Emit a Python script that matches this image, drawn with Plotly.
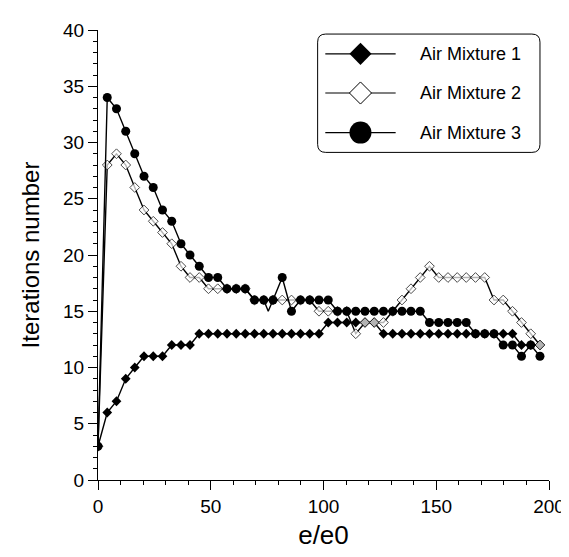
import plotly.graph_objects as go

# e/e0 sample positions
x_grid = [0, 4.1, 8.2, 12.3, 16.3, 20.4, 24.5, 28.6, 32.7, 36.8, 40.8, 44.9, 49.0, 53.1,
          57.2, 61.3, 65.3, 69.4, 73.5, 77.6, 81.7, 85.8, 89.8, 93.9, 98.0, 102.1, 106.2,
          110.3, 114.3, 118.4, 122.5, 126.6, 130.7, 134.8, 138.8, 142.9, 147.0, 151.1,
          155.2, 159.3, 163.3, 167.4, 171.5, 175.6, 179.7, 183.8, 187.8, 191.9, 196.0]

air1 = [3, 6, 7, 9, 10, 11, 11, 11, 12, 12, 12,
        13, 13, 13, 13, 13, 13, 13, 13, 13, 13, 13, 13, 13, 13,
        14, 14, 14, 14, 14, 14,
        13, 13, 13, 13, 13, 13, 13, 13, 13, 13, 13, 13, 13, 13, 13,
        12, 12, 12]

air2 = [3, 28, 29, 28, 26, 24, 23, 22, 21, 19, 18, 18, 17, 17, 17, 17, 17,
        16, 16, 16, 16, 16, 16, 16, 15, 15, 15, 15, 13, 14, 14, 14, 15, 16, 17,
        18, 19, 18, 18, 18, 18, 18, 18, 16, 16, 15, 14, 13, 12]
# an unmarked intermediate point of series 2 (the small dip near e/e0 = 75)
air2_extra_x = [75.5]
air2_extra_y = [15]

air3 = [3, 34, 33, 31, 29, 27, 26, 24, 23, 21, 20, 19, 18, 18, 17, 17, 17, 16, 16, 16,
        18, 15, 16, 16, 16, 16,
        15, 15, 15, 15, 15, 15, 15, 15, 15, 15,
        14, 14, 14, 14, 14,
        13, 13, 13,
        12, 12, 11, 12, 11]

names = ["Air Mixture 1", "Air Mixture 2", "Air Mixture 3"]
x_ticks = [0, 50, 100, 150, 200]
y_ticks = [0, 5, 10, 15, 20, 25, 30, 35, 40]

FONT = "Liberation Sans, Arial, Helvetica, sans-serif"
LINE = dict(color="black", width=1.4)

fig = go.Figure()

fig.add_trace(go.Scatter(
    x=x_grid, y=air1, mode="lines+markers", line=LINE,
    marker=dict(symbol="diamond", size=7.5, color="black"),
    showlegend=False, name=names[0]))

# merge series 2 with its unmarked point
pts = [(x, y, 7.5) for x, y in zip(x_grid, air2)] + \
      [(x, y, 0) for x, y in zip(air2_extra_x, air2_extra_y)]
pts.sort(key=lambda p: p[0])
fig.add_trace(go.Scatter(
    x=[p[0] for p in pts], y=[p[1] for p in pts], mode="lines+markers", line=LINE,
    marker=dict(symbol="diamond", size=[p[2] for p in pts], color="white",
                line=dict(color="black", width=1)),
    showlegend=False, name=names[1]))

fig.add_trace(go.Scatter(
    x=x_grid, y=air3, mode="lines+markers", line=LINE,
    marker=dict(symbol="circle", size=9, color="black"),
    showlegend=False, name=names[2]))

# ---- hand-drawn legend (paper coordinates) ----
bx0, bx1, by0, by1 = 0.487, 0.980, 0.728, 0.991
rx, ry = 0.018, 0.018
path = (f"M {bx0+rx},{by0} L {bx1-rx},{by0} Q {bx1},{by0} {bx1},{by0+ry} "
        f"L {bx1},{by1-ry} Q {bx1},{by1} {bx1-rx},{by1} L {bx0+rx},{by1} "
        f"Q {bx0},{by1} {bx0},{by1-ry} L {bx0},{by0+ry} Q {bx0},{by0} {bx0+rx},{by0} Z")
shapes = [dict(type="path", path=path, xref="paper", yref="paper",
               line=dict(color="black", width=1), fillcolor="white", layer="below")]
rows = [0.947, 0.860, 0.772]
lx0, lx1, lmx, tx = 0.504, 0.660, 0.582, 0.71
annotations = []
for r, nm in zip(rows, names):
    shapes.append(dict(type="line", xref="paper", yref="paper", x0=lx0, x1=lx1,
                       y0=r, y1=r, line=dict(color="black", width=1.2), layer="below"))
    annotations.append(dict(x=tx, y=r, xref="paper", yref="paper", text=nm,
                            showarrow=False, xanchor="left", yanchor="middle",
                            font=dict(family=FONT, size=18, color="black")))

leg_styles = [
    dict(symbol="diamond", size=17, color="black"),
    dict(symbol="diamond", size=17, color="white", line=dict(color="black", width=1)),
    dict(symbol="circle", size=22, color="black"),
]
for r, st in zip(rows, leg_styles):
    fig.add_trace(go.Scatter(x=[lmx], y=[r], xaxis="x2", yaxis="y2", mode="markers",
                             marker=st, showlegend=False, hoverinfo="skip",
                             cliponaxis=False))

fig.update_layout(
    width=569, height=557,
    margin=dict(l=90, r=17, t=16, b=85),
    paper_bgcolor="white", plot_bgcolor="white",
    font=dict(family=FONT, color="black"),
    xaxis=dict(range=[0, 200], tickvals=x_ticks, ticks="outside", ticklen=9,
               tickcolor="black", tickwidth=1, showline=True, linecolor="black",
               linewidth=1, showgrid=False, zeroline=False,
               tickfont=dict(size=19),
               minor=dict(dtick=10, ticks="outside", ticklen=4, tickcolor="black"),
               title=dict(text="e/e0", font=dict(size=26), standoff=10)),
    yaxis=dict(range=[0, 40], tickvals=y_ticks, ticks="outside", ticklen=9,
               tickcolor="black", tickwidth=1, showline=True, linecolor="black",
               linewidth=1, showgrid=False, zeroline=False,
               tickfont=dict(size=19),
               minor=dict(dtick=1, ticks="outside", ticklen=4, tickcolor="black"),
               title=dict(text="Iterations number", font=dict(size=24), standoff=16)),
    xaxis2=dict(overlaying="x", range=[0, 1], visible=False, anchor="y2"),
    yaxis2=dict(overlaying="y", range=[0, 1], visible=False, anchor="x2"),
    shapes=shapes, annotations=annotations,
)

fig.write_html("out.html")
